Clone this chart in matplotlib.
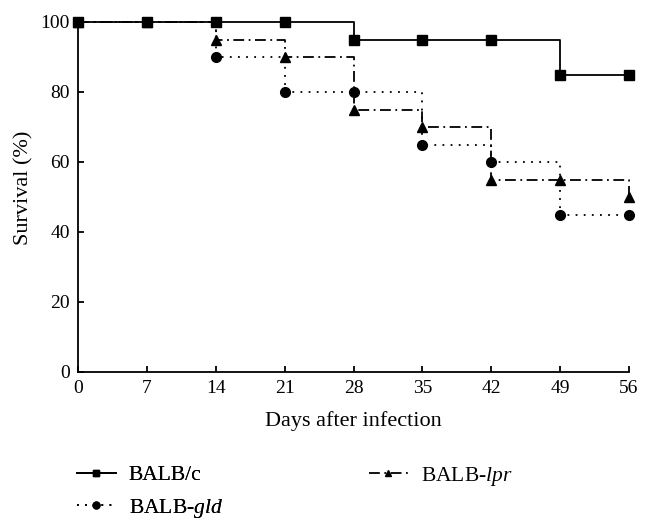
import matplotlib
matplotlib.use("Agg")
import matplotlib.pyplot as plt

plt.rcParams['font.family'] = ['Liberation Serif', 'DejaVu Serif']
plt.rcParams['mathtext.fontset'] = 'custom'
plt.rcParams['mathtext.rm'] = 'Liberation Serif'
plt.rcParams['mathtext.it'] = 'Liberation Serif:italic'

days = [0, 7, 14, 21, 28, 35, 42, 49, 56]
balbc = [100, 100, 100, 100, 95, 95, 95, 85, 85]
gld = [100, 100, 90, 80, 80, 65, 60, 45, 45]
lpr = [100, 100, 95, 90, 75, 70, 55, 55, 50]
xticks = [0, 7, 14, 21, 28, 35, 42, 49, 56]
yticks = [0, 20, 40, 60, 80, 100]

fig = plt.figure(figsize=(6.53, 5.28), dpi=100)
ax = fig.add_axes([78/653, 1-372/528, 551/653, 350/528])

l_gld, = ax.plot(days, gld, drawstyle='steps-post', linestyle=(0, (1, 3.5)), color='black',
                 lw=1.3, marker='o', ms=7, label='BALB-$\\mathit{gld}$', zorder=3, clip_on=False)
l_lpr, = ax.plot(days, lpr, drawstyle='steps-post', linestyle=(0, (6, 2.5, 1, 2.5)), color='black',
                 lw=1.3, marker='^', ms=7, label='BALB-$\\mathit{lpr}$', zorder=3, clip_on=False)
l_c, = ax.plot(days, balbc, drawstyle='steps-post', linestyle='-', color='black',
               lw=1.3, marker='s', ms=7, label='BALB/c', zorder=4, clip_on=False)

ax.set_xlim(0, 56)
ax.set_ylim(0, 100)
ax.set_xticks(xticks)
ax.set_yticks(yticks)
ax.spines['top'].set_visible(False)
ax.spines['right'].set_visible(False)
for s in ['left', 'bottom']:
    ax.spines[s].set_linewidth(1.3)
ax.tick_params(direction='in', length=4, width=1.3, labelsize=14, pad=6)
ax.set_xlabel('Days after infection', fontsize=16, labelpad=10)
ax.set_ylabel('Survival (%)', fontsize=16)
ax.yaxis.set_label_coords(-0.08, 0.526)

common = dict(frameon=False, fontsize=15.5, handlelength=1.8, handletextpad=0.6,
              labelspacing=0.55, borderpad=0, borderaxespad=0, markerscale=0.7,
              loc='upper left')
leg1 = fig.legend([l_c, l_gld], ['BALB/c', 'BALB-$\\mathit{gld}$'],
                  bbox_to_anchor=(77/653, 1-465/528), **common)
fig.add_artist(leg1)
leg2 = fig.legend([l_lpr], ['BALB-$\\mathit{lpr}$'],
                  bbox_to_anchor=(369/653, 1-465/528), **common)

fig.savefig('out.png', dpi=100)
